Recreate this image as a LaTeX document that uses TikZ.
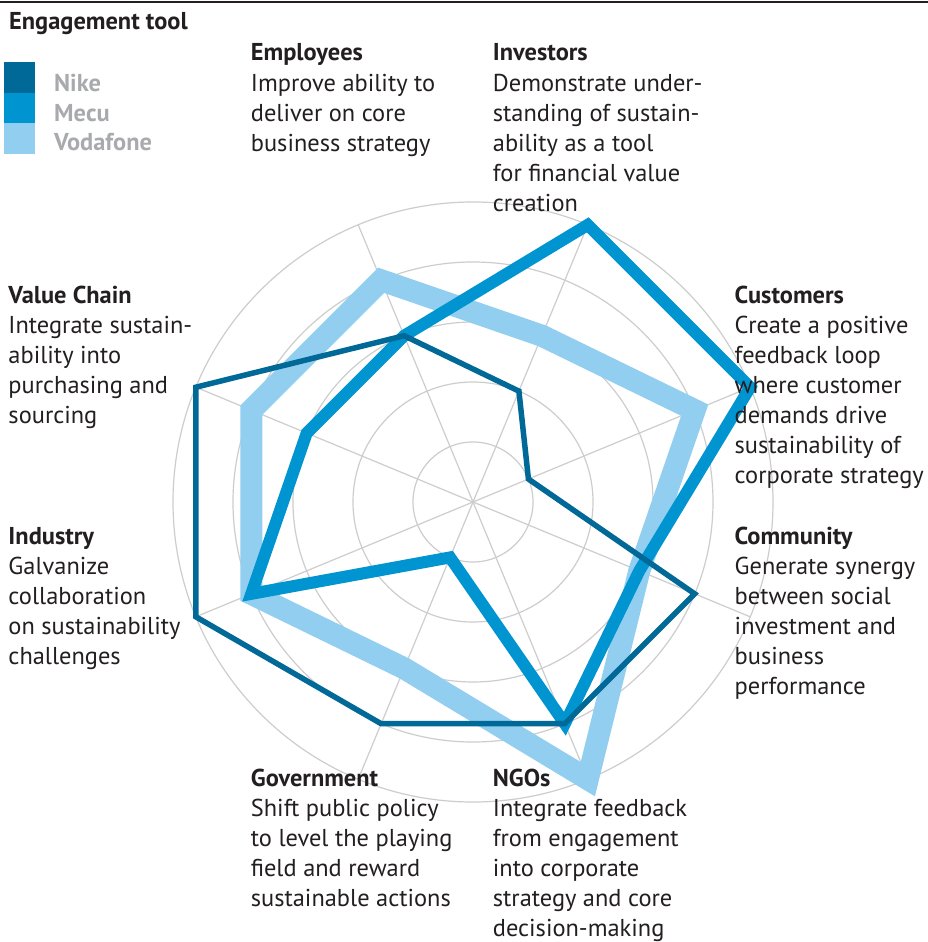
\documentclass[tikz,border=0pt]{standalone}
\usepackage{fontspec}
\setmainfont{PT Sans}
\definecolor{nike}{RGB}{0,105,152}
\definecolor{mecu}{RGB}{0,148,208}
\definecolor{voda}{RGB}{146,206,240}
\definecolor{txt}{RGB}{35,31,32}
\definecolor{legtxt}{RGB}{168,170,173}
\definecolor{gridc}{RGB}{205,205,205}
\newlength\mwidth
\newcommand\lblock[5]{%
  \node[headlbl] (#1) at (#2,#3) {#4};
  \foreach \t [count=\i] in {#5} {\node[bodylbl] (#1-\i) at (#2,{#3+30*\i+0.5}) {\t};}
}
\begin{document}
\settowidth\mwidth{\fontsize{10}{12}\selectfont corporate strategy}%
\pgfmathsetmacro\fsz{1890/\mwidth}%
\begin{tikzpicture}[x=1pt,y=-1pt]
\tikzset{
  bodylbl/.style={anchor=base west, inner sep=0pt, text=txt, font=\fontsize{\fsz}{30}\selectfont},
  headlbl/.style={bodylbl, font=\fontsize{\fsz}{30}\selectfont\bfseries},
  leglbl/.style={headlbl, text=legtxt},
  gridline/.style={draw=gridc, line width=1.2},
  series/.style={line join=miter, miter limit=20}
}
\useasboundingbox (0,0) rectangle (928,942);
\fill[white] (0,0) rectangle (928,942);
% top rule
\draw[txt, line width=2] (0,2) -- (928,2);
% title and legend
\node[headlbl] (title) at (9,30) {Engagement tool};
\fill[nike] (4,62) rectangle (35,93);
\fill[mecu] (4,93) rectangle (35,123);
\fill[voda] (4,123) rectangle (35,154);
\node[leglbl] (lnike) at (54,91.5) {Nike};
\node[leglbl] (lmecu) at (54,121) {Mecu};
\node[leglbl] (lvoda) at (54,150.5) {Vodafone};
% radar
\begin{scope}[shift={(473,502)}]
  \coordinate (C) at (0,0);
  \foreach \r in {60,120,180,240,300} \draw[gridline] (C) circle[radius=\r];
  \foreach \a in {-112.5,-67.5,-22.5,22.5} \draw[gridline] (\a:300) -- (\a+180:300);
  % axes: Emp -112.5, Inv -67.5, Cust -22.5, Comm 22.5, NGO 67.5, Gov 112.5, Ind 157.5, VC 202.5
  \foreach \a/\v [count=\i] in {-112.5/4,-67.5/3,-22.5/4,22.5/3,67.5/5,112.5/3,157.5/4,202.5/4}
    \coordinate (v\i) at (\a:60*\v);
  \foreach \a/\v [count=\i] in {-112.5/3,-67.5/5,-22.5/5,22.5/3,67.5/4,112.5/1,157.5/4,202.5/3}
    \coordinate (m\i) at (\a:60*\v);
  \foreach \a/\v [count=\i] in {-112.5/3,-67.5/2,-22.5/1,22.5/4,67.5/4,112.5/4,157.5/5,202.5/5}
    \coordinate (n\i) at (\a:60*\v);
  \draw[series, voda, line width=22] (v1)--(v2)--(v3)--(v4)--(v5)--(v6)--(v7)--(v8)--cycle;
  \draw[series, mecu, line width=12] (m1)--(m2)--(m3)--(m4)--(m5)--(m6)--(m7)--(m8)--cycle;
  \draw[series, nike, line width=5.5] (n1)--(n2)--(n3)--(n4)--(n5)--(n6)--(n7)--(n8)--cycle;
\end{scope}
% labels
\lblock{emp}{250.7}{61}{Employees}{Improve ability to,deliver on core,business strategy}
\lblock{inv}{492.7}{61}{Investors}{Demonstrate under-,standing of sustain-,ability as a tool,for financial value,creation}
\lblock{cust}{734.5}{303}{Customers}{Create a positive,feedback loop,where customer,demands drive,sustainability of,corporate strategy}
\lblock{comm}{734.5}{544.3}{Community}{Generate synergy,between social,investment and,business,performance}
\lblock{ngo}{492.7}{786.3}{NGOs}{Integrate feedback,from engagement,into corporate,strategy and core,decision-making}
\lblock{gov}{250.7}{786.3}{Government}{Shift public policy,to level the playing,field and reward,sustainable actions}
\lblock{ind}{8.3}{544.3}{Industry}{Galvanize,collaboration,on sustainability,challenges}
\lblock{vc}{8.3}{303}{Value Chain}{Integrate sustain-,ability into,purchasing and,sourcing}
\end{tikzpicture}
\end{document}
